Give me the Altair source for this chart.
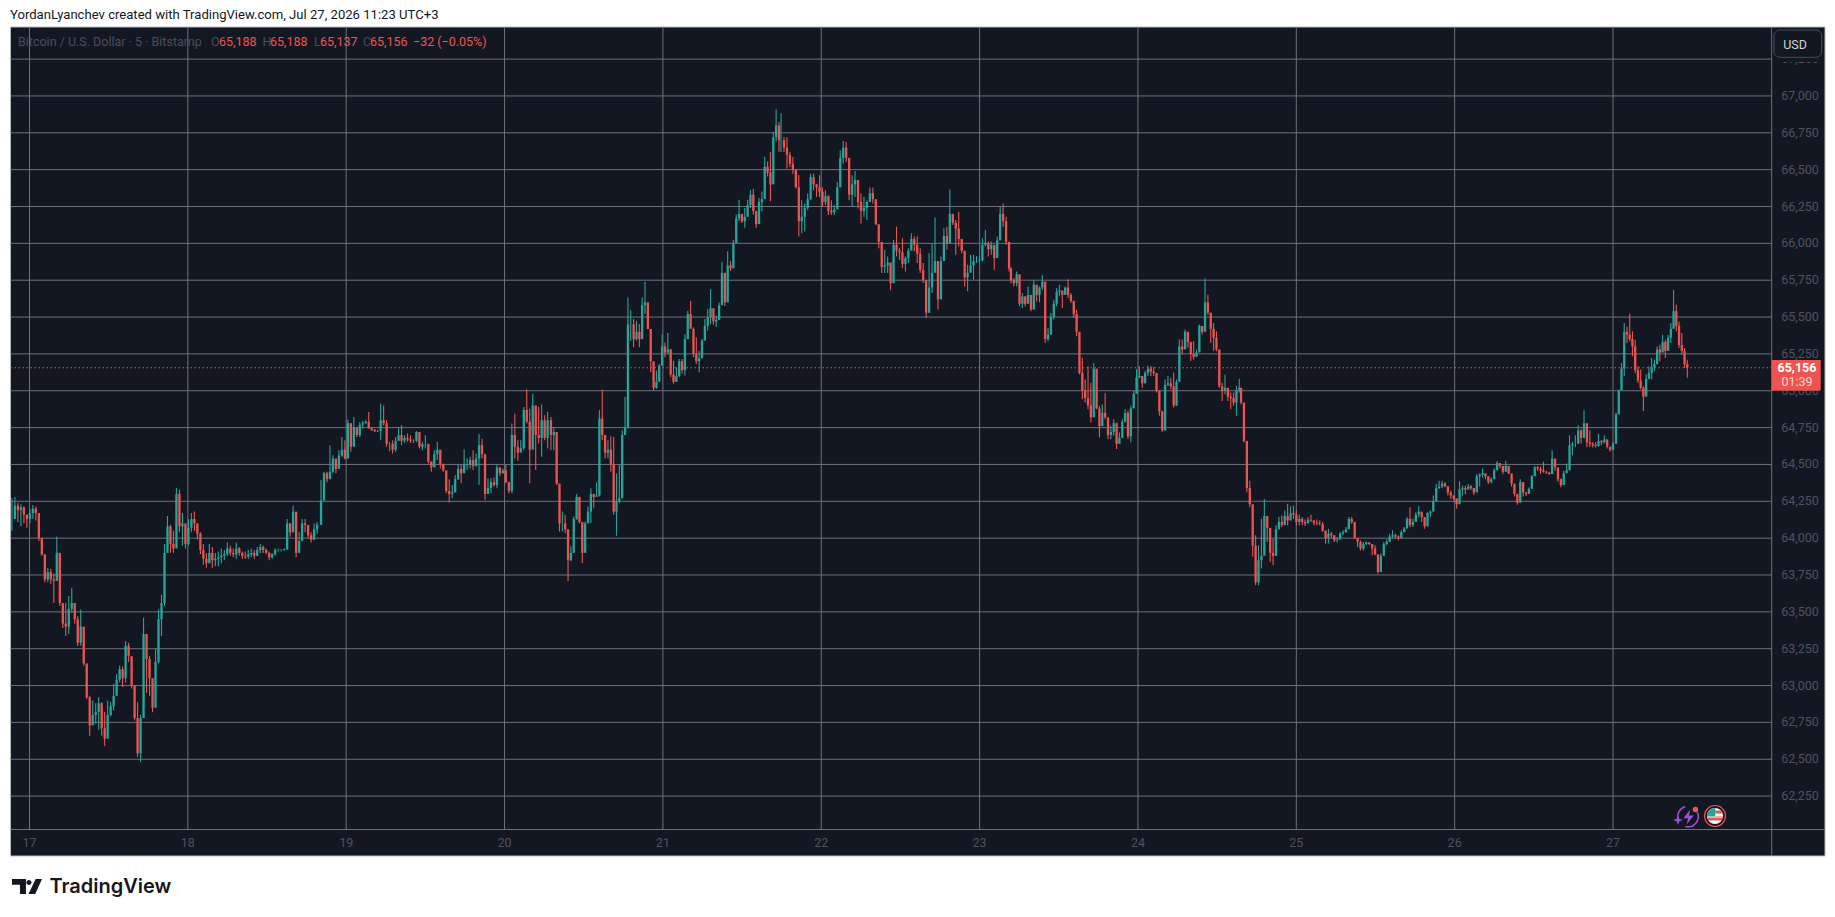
import altair as alt
import pandas as pd

# ---- candle readings: (high, low, close); a candle opens at the previous close ----
seg_a = [
(64270,64050,64130),(64280,64160,64220),(64240,64110,64190),(64230,64080,64210),(64215,64100,64160),(64150,64070,64130),
(64200,64100,64170),(64225,64130,64200),(64215,64120,64170),(64170,63980,64000),(63990,63880,63890),(63880,63700,63720),
(63800,63700,63770),(63790,63690,63720),(63760,63560,63710),(64010,63720,63900),(63900,63540,63560),(63550,63390,63420),
(63560,63336,63400),(63607,63350,63520),(63662,63494,63560),(63520,63420,63450),(63470,63269,63290),(63516,63270,63400),
(63336,63134,63150),(63134,62909,62920),(62931,62660,62730),(62898,62750,62800),(62880,62740,62820),(62920,62700,62880),
(62886,62660,62710),(62820,62590,62640),(62898,62720,62800),(62890,62790,62860),(63010,62830,62930),(63078,62950,63040),
(63134,63021,63110),(63130,62990,63050),(63303,63020,63270),(63290,63160,63200),(63170,62980,63000),(62943,62763,62780),
(62886,62515,62540),(62800,62480,62780),(63460,62780,63350),(63330,62950,63180),(63200,62930,63050),(63010,62819,62850),
(63250,62850,63160),(63516,63150,63450),(63617,63336,63560),(63960,63540,63900),(64150,63900,64080),(64090,63900,63960),
(64050,63900,63930),(64340,63950,64300),(64330,64040,64080),(64170,63950,64100),(64050,63930,63960),(64130,63950,64070),
(64170,64040,64130),(64180,64050,64100),(64100,63990,64030),(64040,63890,63920),(63960,63820,63860),(63900,63800,63830),
(63960,63830,63900),(63940,63800,63850),(63900,63810,63860),(63910,63810,63870),(63930,63830,63880),(63920,63850,63890),
(63970,63880,63930),(63950,63880,63900),(63930,63870,63890),(63970,63860,63930),(63940,63880,63900),(63910,63860,63880),
(63910,63860,63875),(63920,63860,63890),(63930,63870,63900),(63920,63860,63880),(63940,63880,63920),(63960,63900,63940),
(63950,63900,63920),(63930,63890,63900),(63910,63850,63870),(63900,63860,63890),(63930,63880,63920),(63930,63910,63920),
(63925,63910,63920),(63930,63915,63925),(64130,63920,64100),(64100,64010,64040),(64220,64040,64180),(64060,63870,63900),
(64040,63920,63980),(64130,64010,64100),(64130,64040,64090),(64090,64000,64020),(64040,63970,63990),(64100,63990,64060),
(64110,64030,64090),
]
seg_b = [
(64395,64240,64255),(64450,64360,64440),(64450,64380,64400),(64630,64440,64450),(64563,64440,64540),(64507,64440,64470),
(64597,64473,64560),(64687,64552,64600),(64665,64536,64540),(64804,64608,64780),(64754,64586,64620),(64822,64687,64750),
(64732,64687,64700),(64788,64687,64770),(64795,64743,64780),(64800,64777,64790),(64855,64743,64745),(64754,64727,64735),
(64740,64720,64725),(64735,64720,64728),(64912,64664,64800),(64900,64765,64780),(64800,64620,64640),(64653,64592,64640),
(64665,64575,64600),(64687,64586,64660),(64750,64665,64700),(64766,64630,64660),(64698,64646,64680),(64710,64653,64670),
(64698,64646,64660),(64670,64646,64660),(64727,64653,64720),(64675,64608,64620),(64653,64597,64640),(64698,64608,64640),
(64608,64507,64520),(64518,64450,64480),(64597,64484,64570),(64653,64530,64600),(64586,64473,64500),(64507,64450,64460),
(64406,64304,64320),(64399,64241,64300),(64360,64270,64310),(64428,64327,64400),(64496,64394,64470),(64496,64372,64440),
(64601,64473,64500),(64540,64462,64500),(64552,64473,64530),(64597,64462,64490),(64575,64484,64540),(64705,64360,64630),
(64675,64540,64570),(64530,64260,64300),(64406,64304,64340),(64406,64304,64380),(64412,64350,64360),(64496,64338,64480),
(64480,64421,64440),(64473,64440,64460),(64496,64372,64380),(64372,64304,64320),(64777,64304,64700),(64844,64540,64620),
(64665,64525,64580),(64665,64597,64610),(64890,64597,64870),(65010,64777,64790),(64878,64372,64600),(64980,64653,64900),
(64844,64462,64700),(64890,64642,64680),(64907,64552,64800),(64833,64665,64680),(64855,64608,64800),
]
seg_c = [
(64822,64597,64700),(64754,64597,64720),(64597,64360,64370),(64360,64045,64100),(64180,64045,64100),(64158,64034,64060),
(63990,63710,63850),(63945,63843,63900),(64147,64035,64130),(64300,64125,64280),(64232,64100,64110),(64057,63832,63900),
(64113,63967,64100),(64215,64102,64180),(64338,64102,64300),(64293,64203,64280),(64377,64282,64290),(64867,64282,64810),
(65006,64665,64700),(64687,64540,64580),(64665,64540,64600),(64691,64450,64500),(64687,64158,64180),(64440,64016,64250),
(64496,64237,64270),(64732,64372,64700),(64957,64743,64750),(65632,64743,65450),(65546,65340,65450),(65486,65295,65350),
(65474,65340,65400),(65452,65295,65350),(65632,65474,65580),(65740,65520,65600),(65531,65418,65420),(65295,65125,65200),
(65137,65002,65020),(65137,65013,65060),(65182,65070,65170),(65384,65215,65300),(65328,65227,65260),(65391,65250,65280),
(65283,65092,65110),(65204,65047,65060),(65160,65070,65100),(65216,65092,65200),(65216,65115,65140),(65384,65103,65350),
(65542,65407,65520),(65609,65430,65420),(65430,65227,65250),(65362,65182,65200),(65272,65126,65220),(65351,65250,65340),
(65486,65407,65440),(65553,65407,65500),(65688,65452,65560),(65520,65447,65470),(65508,65434,65480),(65598,65520,65580),
(65875,65610,65800),(65767,65575,65600),(65947,65767,65850),(65880,65812,65830),(66025,65902,66000),(66195,66082,66170),
(66295,66150,66200),(66195,66138,66150),(66240,66105,66180),(66295,66217,66260),(66363,66240,66330),(66370,66195,66220),
(66205,66105,66130),(66307,66183,66280),(66352,66217,66300),(66588,66363,66520),(66555,66453,66480),(66622,66285,66400),
(66757,66555,66720),(66910,66690,66800),(66824,66622,66700),
]
seg_d = [
(66883,66620,66700),(66720,66620,66650),(66720,66507,66600),(66620,66518,66540),(66585,66473,66500),(66469,66372,66380),
(66462,66046,66150),(66293,66068,66180),(66270,66080,66240),(66338,66225,66300),(66473,66293,66450),(66473,66360,66400),
(66405,66315,66380),(66462,66315,66350),(66379,66248,66280),(66360,66260,66320),(66327,66192,66220),(66293,66192,66210),
(66260,66192,66230),(66417,66304,66380),(66630,66428,66580),(66694,66540,66650),(66687,66552,66580),(66540,66293,66330),
(66462,66248,66400),(66491,66315,66430),(66350,66237,66280),(66338,66135,66220),(66316,66180,66240),(66293,66158,66280),
(66379,66282,66340),(66379,66270,66300),(66253,66124,66130),(66086,65967,66010),(65933,65798,65840),(65956,65798,65850),
(65911,65798,65870),(65787,65681,65730),(66023,65866,65990),(66113,65911,65950),(65967,65888,65940),(66034,65832,65860),
(65911,65809,65900),(65967,65866,65950),(66068,65956,66030),(66046,65944,65990),(66046,65866,65930),(65967,65798,65820),
(65866,65731,65750),(65697,65494,65530),(65933,65528,65700),(66000,65663,65800),(66176,65843,65880),(65765,65551,65620),
(65911,65765,65880),(66102,65933,66050),(66113,65956,66000),(66365,66000,66200),(66192,66125,66140),(66158,65922,66100),
(66215,65978,66030),(66023,65933,65950),(65855,65708,65770),(65855,65675,65800),(65922,65821,65850),(65922,65753,65880),
(65915,65866,65880),(65915,65866,65885),(66034,65877,65990),(66091,65978,66000),(66012,65911,65960),(66012,65922,65990),
(65967,65821,65900),(66046,65944,66020),(66248,66113,66200),(66270,66113,66150),(66180,65990,66010),(65956,65809,65830),
]
seg_e = [
(65838,65730,65750),(65764,65708,65730),(65809,65708,65790),(65708,65573,65590),(65663,65561,65640),(65640,65573,65590),
(65708,65595,65650),(65606,65539,65550),(65753,65606,65720),(65685,65606,65650),(65708,65600,65700),(65786,65685,65740),
(65685,65325,65350),(65426,65336,65380),(65528,65393,65500),(65618,65483,65590),(65696,65573,65670),(65719,65640,65680),
(65674,65561,65650),(65708,65651,65700),(65757,65629,65650),(65663,65595,65610),(65606,65494,65520),(65550,65370,65400),
(65382,65111,65120),(65224,64943,65000),(65077,64920,64950),(65167,64875,64900),(65055,64785,64820),(65186,64999,65150),
(65145,64875,64880),(64898,64684,64760),(64909,64830,64850),(64983,64807,64820),(64807,64672,64700),(64762,64672,64720),
(64807,64695,64780),(64785,64605,64640),(64717,64650,64680),(64807,64717,64790),(64875,64785,64850),(64864,64672,64690),
(64898,64650,64880),(64999,64886,64980),(65145,65066,65090),(65167,65089,65100),(65077,65021,65050),(65134,65055,65120),
(65172,65100,65150),(65167,65100,65130),(65163,65100,65120),(65077,64988,65000),(64943,64830,64860),(64864,64722,64730),
(65077,64875,65040),(65100,65032,65050),(65089,65010,65030),(65122,64886,64900),(65077,64898,65060),(65348,65122,65300),
(65348,65246,65280),(65415,65359,65400),(65393,65291,65330),(65325,65201,65250),(65336,65212,65230),(65280,65235,65260),
(65449,65280,65440),(65438,65381,65400),(65764,65460,65600),(65651,65516,65530),(65460,65325,65420),(65460,65269,65360),
(65404,65269,65280),(65269,65021,65030),(65055,64931,65000),(65111,64977,65020),(65010,64931,64960),(64988,64875,64950),
(64988,64898,64920),(65032,64830,65000),(65082,64988,65020),
]
seg_f = [
(65009,64908,64920),(64896,64649,64660),(64649,64311,64340),(64390,64210,64230),(64143,63873,63950),(64019,63681,63700),
(63951,63681,63850),(64131,63794,63880),(64266,63918,64150),(64131,63974,64070),(64064,63839,63900),(63996,63816,63880),
(64087,63951,64060),(64143,64087,64110),(64154,64075,64090),(64188,64087,64150),(64233,64087,64120),(64217,64143,64170),
(64221,64131,64160),(64188,64087,64110),(64159,64087,64130),(64143,64087,64110),(64127,64082,64100),(64143,64109,64125),
(64159,64109,64120),(64120,64087,64105),(64127,64087,64100),(64120,64087,64095),(64109,64042,64050),(64053,63963,64000),
(64064,63963,64030),(64042,63996,64020),(64008,63974,63985),(64008,63970,63990),(64042,63996,64030),(64053,64019,64040),
(64075,64037,64060),(64143,64064,64130),(64143,64098,64110),(64098,63996,64000),(63996,63940,63975),(63985,63917,63930),
(63974,63917,63960),(63978,63951,63970),(63974,63951,63960),(63951,63884,63930),(63951,63884,63890),(63873,63760,63770),
(63895,63805,63880),(63974,63884,63960),(63992,63951,63975),(64030,63974,64010),(64053,63996,64020),(64030,63996,64010),
(64019,63985,64000),(64053,64019,64040),(64075,64053,64065),(64143,64075,64130),(64210,64075,64090),(64131,64075,64110),
(64176,64120,64160),(64217,64143,64180),(64176,64109,64140),(64143,64064,64080),(64176,64131,64170),(64188,64143,64180),
(64289,64199,64250),(64368,64289,64340),(64390,64334,64350),(64390,64339,64370),(64379,64345,64350),(64356,64289,64310),
(64323,64266,64290),(64289,64255,64270),(64267,64199,64230),(64386,64266,64330),(64356,64289,64340),(64356,64300,64330),
(64368,64345,64350),
]
seg_g = [
(64361,64327,64340),(64338,64293,64310),(64435,64350,64420),(64440,64350,64430),(64473,64412,64440),(64435,64399,64420),
(64417,64367,64380),(64412,64372,64400),(64473,64421,64460),(64523,64473,64510),(64496,64473,64490),(64485,64435,64450),
(64525,64473,64490),(64455,64435,64440),(64435,64350,64370),(64345,64282,64300),(64293,64226,64240),(64399,64282,64380),
(64350,64282,64310),(64309,64286,64300),(64345,64304,64335),(64428,64345,64420),(64489,64428,64480),(64489,64457,64470),
(64485,64435,64460),(64518,64444,64450),(64457,64435,64445),(64451,64428,64435),(64597,64451,64540),(64518,64457,64480),
(64473,64383,64400),(64405,64345,64360),(64457,64403,64440),(64507,64451,64460),(64698,64507,64630),(64653,64563,64640),
(64698,64619,64640),(64766,64687,64730),(64743,64642,64680),(64867,64687,64780),(64732,64619,64650),(64732,64619,64640),
(64653,64615,64630),(64653,64615,64625),(64709,64619,64660),(64664,64630,64650),(64698,64642,64670),(64653,64608,64620),
(64608,64586,64600),(64653,64597,64640),
]
seg_h = [
(64850,64715,64840),(65009,64862,65000),(65189,65009,65150),(65459,65099,65400),(65436,65324,65380),(65522,65335,65350),
(65403,65234,65300),(65346,65121,65140),(65166,65054,65070),(65144,65009,65020),(65031,64862,64960),(65110,64998,65080),
(65166,65088,65120),(65222,65076,65160),(65211,65133,65180),(65301,65211,65280),(65312,65200,65260),(65380,65268,65330),
(65346,65222,65270),(65380,65290,65360),(65459,65324,65420),(65684,65470,65540),(65583,65403,65440),(65470,65290,65310),
(65391,65245,65270),(65290,65155,65180),(65211,65088,65156),
]
# first and last date (day of month) covered by each run of readings
segments = [
    (seg_a, 16.889, 18.816), (seg_b, 18.841, 20.272), (seg_c, 20.293, 21.733), (seg_d, 21.746, 23.186),
    (seg_e, 23.198, 24.640), (seg_f, 24.651, 26.086), (seg_g, 26.103, 27.000), (seg_h, 27.019, 27.469),
]

price_ticks = list(range(62250, 67500, 250))
day_ticks = list(range(17, 28))
last_price = 65156
legend_name = "Bitcoin / U.S. Dollar · 5 · Bitstamp"
legend_ohlc = [("O", "65,188", 211, 219), ("H", "65,188", 262.5, 270), ("L", "65,137", 314, 320), ("C", "65,156", 363, 370)]
legend_change = "−32 (−0.05%)"
header = "YordanLyanchev created with TradingView.com, Jul 27, 2026 11:23 UTC+3"

BG = "#131722"; UP = "#26a69a"; DOWN = "#ef5350"; GRID = "#6e717b"; AXIS_TXT = "#4e525d"; DIM = "#4a4e59"
PURPLE = "#9a52d4"
FONT = "Roboto"

rows = []
prev = None
for seg, d0, d1 in segments:
    n = len(seg)
    for i, (h, l, c) in enumerate(seg):
        o = prev if prev is not None else c
        rows.append(dict(t=d0 + (d1 - d0) * i / (n - 1), high=h, low=l, open=o, close=c,
                         dir="up" if c >= o else "down"))
        prev = c
candles = pd.DataFrame(rows)

xs = alt.Scale(domain=[16.8642, 28.3514], nice=False, zero=False)
ys = alt.Scale(domain=[61484.0, 67596.7], nice=False, zero=False)
def X(f): return alt.X(f, type="quantitative", scale=xs, axis=None)
def Y(f): return alt.Y(f, type="quantitative", scale=ys, axis=None)
def px(v): return alt.value(v - 8)
one = pd.DataFrame({"a": [0]})

def box(x0, x1, y0, y1, **kw):
    return alt.Chart(one).mark_rect(**kw).encode(x=px(x0), x2=px(x1), y=px(y0), y2=px(y1))

def label(text, x, y, **kw):
    kw.setdefault("font", FONT); kw.setdefault("fontSize", 12.5); kw.setdefault("align", "left"); kw.setdefault("baseline", "middle")
    return alt.Chart(one).mark_text(text=text, **kw).encode(x=px(x), y=px(y))

def symbol(path, x, y, d, **kw):
    return alt.Chart(one).mark_point(shape=path, size=d * d, **kw).encode(x=px(x), y=px(y))

panel = box(10.5, 1825, 27, 856, fill=BG, stroke="#b8bac0", strokeWidth=1)

h_grid = alt.Chart(pd.DataFrame({"p": price_ticks, "x0": 16.88, "x1": 28.002})).mark_rule(color=GRID, strokeWidth=1).encode(
    y=Y("p"), x=X("x0"), x2="x1")
v_grid = alt.Chart(pd.DataFrame({"d": day_ticks, "y0": 62023, "y1": 67468})).mark_rule(color=GRID, strokeWidth=1).encode(
    x=X("d"), y=Y("y0"), y2="y1")

axis_v = alt.Chart(one).mark_rule(color=GRID, strokeWidth=1).encode(x=px(1771.7), y=px(27), y2=px(856))
axis_h = alt.Chart(one).mark_rule(color=GRID, strokeWidth=1).encode(x=px(10.5), x2=px(1825), y=px(829.5))

color = alt.Color("dir:N", scale=alt.Scale(domain=["up", "down"], range=[UP, DOWN]), legend=None)
wicks = alt.Chart(candles).mark_rule(strokeWidth=1.1).encode(x=X("t"), y=Y("high"), y2="low", color=color)
bodies = alt.Chart(candles).mark_rule(strokeWidth=2.3).encode(x=X("t"), y=Y("open"), y2="close", color=color)

last_line = alt.Chart(pd.DataFrame({"p": [last_price], "x0": 16.88, "x1": 28.002})).mark_rule(
    color=DOWN, strokeWidth=1, strokeDash=[1.5, 2.5]).encode(y=Y("p"), x=X("x0"), x2="x1")

price_df = pd.DataFrame({"p": price_ticks, "t": [f"{v:,}" for v in price_ticks]})
price_labels = alt.Chart(price_df).mark_text(font=FONT, fontSize=12.5, color=AXIS_TXT, align="center", baseline="middle").encode(
    x=px(1800), y=Y("p"), text="t:N")
day_df = pd.DataFrame({"d": day_ticks, "t": [str(v) for v in day_ticks]})
day_labels = alt.Chart(day_df).mark_text(font=FONT, fontSize=12.5, color=AXIS_TXT, align="center", baseline="middle").encode(
    x=X("d"), y=px(842.7), text="t:N")

price_box = box(1771.7, 1820.7, 360, 390.7, fill=DOWN, cornerRadius=1)
price_text = label("65,156", 1797, 367.7, color="#ffffff", fontWeight="bold", align="center")
timer_text = label("01:39", 1797, 381.7, color="#f6d5d4", align="center")

usd_cover = box(1772.5, 1824, 28, 62, fill=BG)
usd_box = box(1774, 1821.7, 30, 57.3, fill=BG, stroke="#4a4e59", strokeWidth=1, cornerRadius=6)
usd_text = label("USD", 1795, 44.5, color="#d1d4dc", align="center", fontSize=12.5)

texts = [
    label(header, 10, 15, color="#131722", fontSize=13.1),
    label(legend_name, 18, 42, color=DIM),
    label(legend_change, 413, 42, color=DOWN),
]
for k, v, xk, xv in legend_ohlc:
    texts += [label(k, xk, 42, color=DIM), label(v, xv, 42, color=DOWN)]

# TradingView logo
logo_path = ("M-1,-0.5 L-0.07,-0.5 L-0.07,0.5 L-0.47,0.5 L-0.47,-0.12 L-1,-0.12 Z "
             "M0.13,-0.44 A0.17,0.17 0 1 1 0.13,-0.1 A0.17,0.17 0 1 1 0.13,-0.44 Z "
             "M0.58,-0.5 L1,-0.5 L0.55,0.5 L0.1,0.5 Z")
logo = symbol(logo_path, 27, 886.5, 30, fill="#131722", filled=True, strokeWidth=0, opacity=1)
logo_text = label("TradingView", 49.5, 887, color="#131722", font="Inter", fontSize=20, fontWeight=600)

# small icons at the bottom right of the plot
ring_a = alt.Chart(one).mark_arc(radius=9.5, radius2=11, theta=1.1, theta2=3.4, color=PURPLE).encode(x=px(1688), y=px(816.5))
ring_b = alt.Chart(one).mark_arc(radius=9.5, radius2=11, theta=4.4, theta2=6.0, color=PURPLE).encode(x=px(1688), y=px(816.5))
bolt = symbol("M0.25,-1 L-0.7,0.15 L-0.05,0.15 L-0.25,1 L0.7,-0.2 L0.05,-0.2 Z", 1688.5, 817, 15, fill=PURPLE, filled=True, strokeWidth=0, opacity=1)
star = symbol("M0,-1 L0.25,-0.25 L1,0 L0.25,0.25 L0,1 L-0.25,0.25 L-1,0 L-0.25,-0.25 Z", 1678, 820, 10, fill=PURPLE, filled=True, strokeWidth=0, opacity=1)
dot = symbol("circle", 1695.5, 809.5, 5.5, fill=DOWN, filled=True, strokeWidth=0, opacity=1)
flag_ring = symbol("circle", 1715, 816, 21, fill=BG, filled=True, stroke=DOWN, strokeWidth=1.2, opacity=1)
flag_white = symbol("circle", 1715, 816, 16, fill="#ffffff", filled=True, strokeWidth=0, opacity=1)
flag_canton = symbol("M-1,0.05 A1,1 0 0 1 0.05,-1 L0.05,0.05 Z", 1715, 816, 16, fill=UP, filled=True, strokeWidth=0, opacity=1)
flag_stripes = symbol("M0.05,-0.7 L0.72,-0.7 L0.95,-0.3 L0.05,-0.3 Z M0.05,0 L1,0 L1,0.05 L0.05,0.05 Z M-0.98,0.2 L0.98,0.2 L0.85,0.55 L-0.85,0.55 Z", 1715, 816, 16, fill=DOWN, filled=True, strokeWidth=0, opacity=1)

chart = alt.layer(
    panel, h_grid, v_grid, axis_v, axis_h, price_labels, day_labels,
    wicks, bodies, last_line, price_box, price_text, timer_text, usd_cover, usd_box, usd_text,
    *texts, logo, logo_text, ring_a, ring_b, bolt, star, dot, flag_ring, flag_white, flag_canton, flag_stripes,
).resolve_scale(color="independent").properties(
    width=1819, height=901, padding=0, background="#ffffff"
).configure_view(stroke=None)

chart.save("out.html", embed_options={"renderer": "svg", "actions": False})
